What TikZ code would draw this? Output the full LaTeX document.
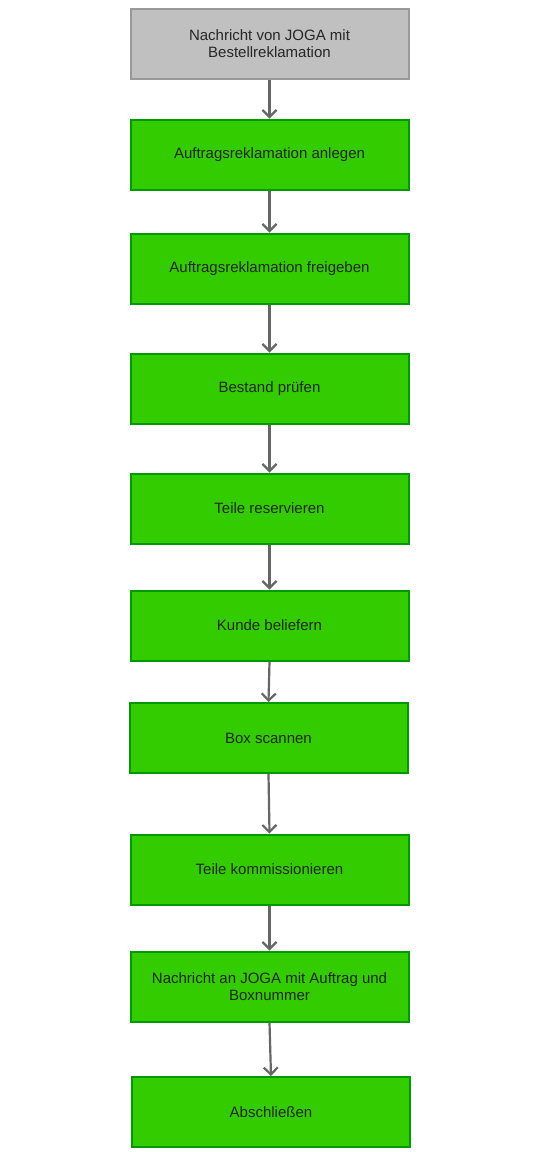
\documentclass[tikz,border=0pt]{standalone}
\usepackage{fontspec}
\setmainfont{Liberation Sans}
\usetikzlibrary{arrows.meta}
\definecolor{gruen}{HTML}{33CC00}
\definecolor{gruenrand}{HTML}{009900}
\definecolor{grau}{HTML}{C0C0C0}
\definecolor{graurand}{HTML}{999999}
\definecolor{pfeilgrau}{HTML}{666666}
\tikzset{
  schritt/.style={draw=gruenrand, fill=gruen, line width=2pt, minimum width=278pt,
    minimum height=70pt, inner sep=0pt, align=center, text=black!85,
    font=\fontsize{15pt}{17pt}\selectfont},
  eingang/.style={schritt, draw=graurand, fill=grau},
  pfeil/.style={draw=pfeilgrau, line width=2.2pt, -{Straight Barb[length=7pt,width=14pt]}}
}
\begin{document}
\begin{tikzpicture}[x=1pt, y=-1pt]
    \useasboundingbox (0,0) rectangle (538,1152);

    % Eingang der Reklamation
    \node[eingang] (nachricht) at (269.5, 43.5) {Nachricht von JOGA mit\\Bestellreklamation};

    % Ablaufschritte
    \node[schritt] (anlegen) at (269.5, 154.5) {Auftragsreklamation anlegen};
    \node[schritt] (freigeben) at (269.5, 268.5) {Auftragsreklamation freigeben};
    \node[schritt] (bestand) at (269.5, 388.5) {Bestand prüfen};
    \node[schritt] (reservieren) at (269.5, 508.5) {Teile reservieren};
    \node[schritt] (beliefern) at (269.5, 625.5) {Kunde beliefern};
    \node[schritt] (scannen) at (268.5, 738) {Box scannen};
    \node[schritt] (kommission) at (269.5, 869.5) {Teile kommissionieren};
    \node[schritt] (meldung) at (269.5, 986.5) {Nachricht an JOGA mit Auftrag und\\Boxnummer};
    \node[schritt] (abschluss) at (271, 1112) {Abschließen};

    % Pfeile
    \draw[pfeil] (nachricht.south) -- (anlegen.north);
    \draw[pfeil] (anlegen.south) -- (freigeben.north);
    \draw[pfeil] (freigeben.south) -- (bestand.north);
    \draw[pfeil] (bestand.south) -- (reservieren.north);
    \draw[pfeil] (reservieren.south) -- (beliefern.north);
    \draw[pfeil] (beliefern.south) -- (scannen.north);
    \draw[pfeil] (scannen.south) -- (kommission.north);
    \draw[pfeil] (kommission.south) -- (meldung.north);
    \draw[pfeil] (meldung.south) -- (abschluss.north);
\end{tikzpicture}
\end{document}
